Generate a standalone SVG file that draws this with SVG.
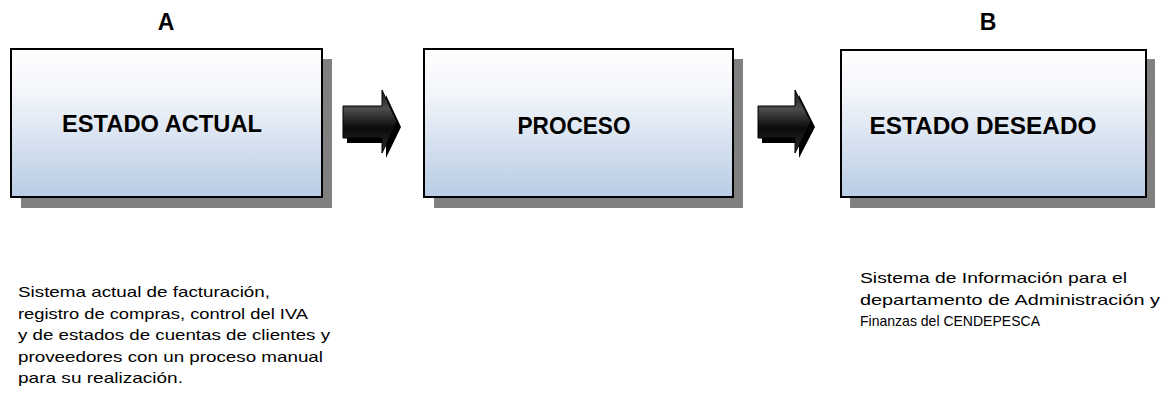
<svg xmlns="http://www.w3.org/2000/svg" width="1161" height="404" viewBox="0 0 1161 404">
<defs>
<linearGradient id="boxFill" x1="0" y1="0" x2="0" y2="1">
<stop offset="0" stop-color="#ffffff"/>
<stop offset="0.3" stop-color="#f2f5fa"/>
<stop offset="1" stop-color="#b8cce4"/>
</linearGradient>
<linearGradient id="arrowFill" x1="0" y1="0" x2="0" y2="1">
<stop offset="0" stop-color="#1a1a1a"/>
<stop offset="0.3" stop-color="#4d4d4d"/>
<stop offset="0.6" stop-color="#0a0a0a"/>
<stop offset="1" stop-color="#2e2e2e"/>
</linearGradient>
<style>
.shadow{fill:#808080;}
.box{fill:url(#boxFill);stroke:#000;stroke-width:2;}
.title{font-family:"Liberation Sans",Arial,sans-serif;font-weight:bold;font-size:23px;fill:#000;text-anchor:middle;}
.body{font-family:"Liberation Sans",Arial,sans-serif;font-size:15px;fill:#000;}
.arrowShadow{fill:#000;}
.arrow{fill:url(#arrowFill);stroke:#000;stroke-width:1;}
</style>
</defs>
<rect width="1161" height="404" fill="#fff"/>

<g id="label-A"><text class="title" x="166" y="30">A</text></g>
<g id="label-B"><text class="title" x="988" y="30">B</text></g>

<g id="node-estado-actual">
<rect class="shadow" x="21" y="59" width="311" height="149"/>
<rect class="box" x="11" y="49" width="311" height="148"/>
<text class="title" x="162" y="132" textLength="200" lengthAdjust="spacingAndGlyphs">ESTADO ACTUAL</text>
</g>

<g id="node-proceso">
<rect class="shadow" x="434" y="59" width="309" height="149"/>
<rect class="box" x="424" y="49" width="309" height="148"/>
<text class="title" x="574" y="134" textLength="113" lengthAdjust="spacingAndGlyphs">PROCESO</text>
</g>

<g id="node-estado-deseado">
<rect class="shadow" x="850" y="59" width="305" height="149"/>
<rect class="box" x="841" y="50" width="305" height="147"/>
<text class="title" x="983" y="134" textLength="227" lengthAdjust="spacingAndGlyphs">ESTADO DESEADO</text>
</g>

<g id="connectors">
<g id="arrow-1">
<polygon class="arrowShadow" points="347,111 386,111 386,95 401,127 386,158 386,143 347,143"/>
<polygon class="arrow" points="343,106 382,106 382,90 397,122 382,153 382,138 343,138"/>
</g>
<g id="arrow-2">
<polygon class="arrowShadow" points="762,111 799,111 799,95 815,127 799,158 799,143 762,143"/>
<polygon class="arrow" points="758,106 795,106 795,90 811,122 795,153 795,138 758,138"/>
</g>
</g>

<g id="text-estado-actual">
<text class="body" x="18" y="297" textLength="252" lengthAdjust="spacingAndGlyphs">Sistema actual de facturación,</text>
<text class="body" x="18" y="319" textLength="290" lengthAdjust="spacingAndGlyphs">registro de compras, control del IVA</text>
<text class="body" x="18" y="340" textLength="312" lengthAdjust="spacingAndGlyphs">y de estados de cuentas de clientes y</text>
<text class="body" x="18" y="362" textLength="305" lengthAdjust="spacingAndGlyphs">proveedores con un proceso manual</text>
<text class="body" x="18" y="383" textLength="165" lengthAdjust="spacingAndGlyphs">para su realización.</text>
</g>

<g id="text-estado-deseado">
<text class="body" x="860" y="283" textLength="267" lengthAdjust="spacingAndGlyphs">Sistema de Información para el</text>
<text class="body" x="860" y="305" textLength="300" lengthAdjust="spacingAndGlyphs">departamento de Administración y</text>
<text class="body" x="860" y="326" textLength="180" lengthAdjust="spacingAndGlyphs">Finanzas del CENDEPESCA</text>
</g>
</svg>
